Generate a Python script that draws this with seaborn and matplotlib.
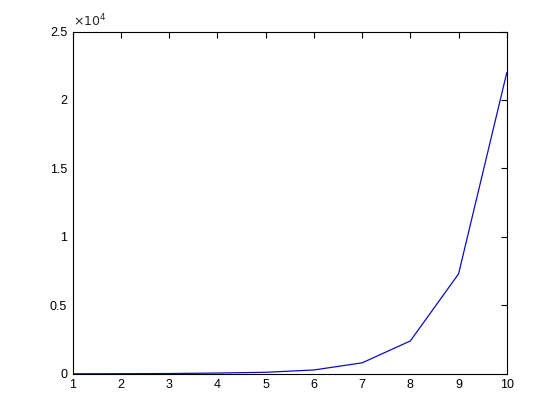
import matplotlib
matplotlib.use("Agg")
import matplotlib.pyplot as plt
import seaborn as sns
import pandas as pd
from matplotlib.ticker import FuncFormatter

x_vals = [1, 2, 3, 4, 5, 6, 7, 8, 9, 10]
y_vals = [3, 8, 20, 55, 110, 280, 800, 2400, 7300, 22000]

sns.set_style("white")
plt.rcParams['font.family'] = ['Liberation Sans', 'DejaVu Sans']

df = pd.DataFrame({"x": x_vals, "y": y_vals})

fig = plt.figure(figsize=(5.6, 4.2), dpi=100)
ax = fig.add_axes([0.13, 0.11, 0.775, 0.815])
sns.lineplot(data=df, x="x", y="y", ax=ax, color=(0.05, 0.05, 0.75), linewidth=0.9)

ax.set_xlim(1, 10)
ax.set_ylim(0, 25000)
ax.set_xticks(range(1, 11))
ax.set_yticks([0, 5000, 10000, 15000, 20000, 25000])
ax.yaxis.set_major_formatter(FuncFormatter(lambda v, p: "%g" % (v / 1e4)))
ax.set_xlabel("")
ax.set_ylabel("")
for s in ax.spines.values():
    s.set_visible(True)
    s.set_color("black")
    s.set_linewidth(0.8)
ax.tick_params(direction="in", length=4, width=0.8, top=True, right=True,
               labelsize=9, colors="black", pad=4)
ax.text(0.0, 1.005, r"$\times 10^{4}$", transform=ax.transAxes, fontsize=9,
        ha="left", va="bottom")
fig.savefig("out.png", dpi=100, facecolor="white")
